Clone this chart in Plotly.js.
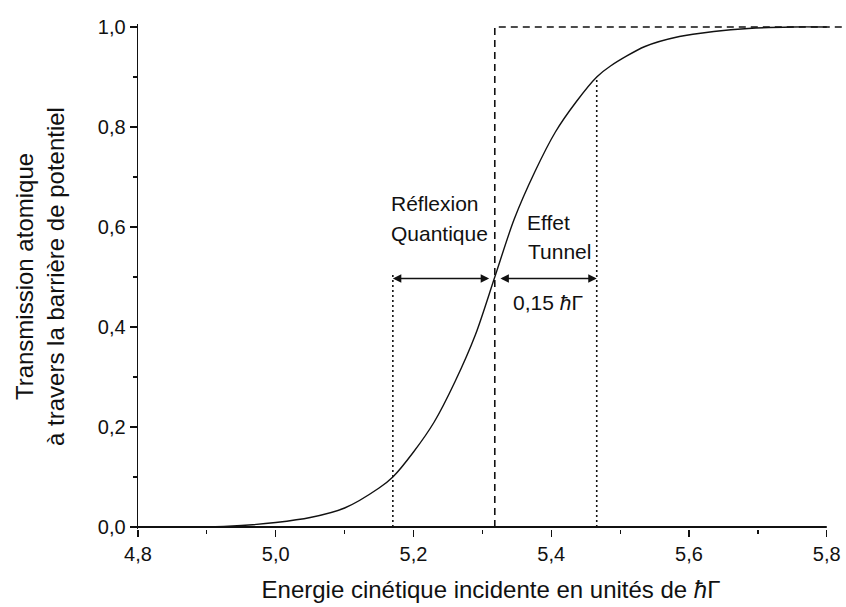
<!DOCTYPE html>
<html>
<head>
<meta charset="utf-8">
<script src="https://cdn.plot.ly/plotly-3.0.1.min.js"></script>
<style>
  html, body { margin: 0; padding: 0; background: #fff; }
  #chart { width: 846px; height: 607px; }
</style>
</head>
<body>
<div id="chart"></div>
<script>
// Transmission curve
const energy = [4.80, 4.90, 4.95, 5.00, 5.05, 5.10, 5.15, 5.17, 5.20, 5.23, 5.26, 5.29, 5.318,
                5.346, 5.376, 5.406, 5.436, 5.466, 5.486, 5.536, 5.586, 5.636, 5.686, 5.75, 5.80];
const transmission = [0.000, 0.000, 0.003, 0.009, 0.019, 0.038, 0.078, 0.100, 0.150, 0.210, 0.290, 0.385, 0.500,
                      0.615, 0.710, 0.790, 0.850, 0.900, 0.922, 0.961, 0.981, 0.991, 0.997, 1.000, 1.000];
// Classical step (dashed)
const stepE = [5.318, 5.318, 5.83];
const stepT = [0, 1, 1];
// Dotted markers of the width (5.17 and 5.466)
const markLeftE = [5.17, 5.17];
const markLeftT = [0, 0.51];
const markRightE = [5.466, 5.466];
const markRightT = [0, 0.90];
// Arrow level and centre
const arrowT = 0.497;
const centreE = 5.318;
// Labels
const xTitle = "Energie cinétique incidente en unités de <i>ħ</i>Γ";
const yTitle = "Transmission atomique<br>à travers la barrière de potentiel";
const xTicks = [4.8, 5.0, 5.2, 5.4, 5.6, 5.8];
const yTicks = [0.0, 0.2, 0.4, 0.6, 0.8, 1.0];

const FONT = "Liberation Sans, Arial, Helvetica, sans-serif";

const traces = [
  { x: energy, y: transmission, type: "scatter", mode: "lines",
    line: { color: "#111", width: 1.4, shape: "spline", smoothing: 0.8 }, hoverinfo: "skip" },
  { x: stepE, y: stepT, type: "scatter", mode: "lines",
    line: { color: "#111", width: 1.6, dash: "7px,5px" }, hoverinfo: "skip" },
  { x: markLeftE, y: markLeftT, type: "scatter", mode: "lines",
    line: { color: "#111", width: 1.6, dash: "2px,3px" }, hoverinfo: "skip" },
  { x: markRightE, y: markRightT, type: "scatter", mode: "lines",
    line: { color: "#111", width: 1.6, dash: "2px,3px" }, hoverinfo: "skip" }
];

const txt = (t, x, y) => ({ text: t, x: x, y: y, xref: "x", yref: "y", showarrow: false,
  xanchor: "left", yanchor: "middle", font: { family: FONT, size: 21, color: "#111" } });

const arrow = (x0, x1) => ({ x: x1, y: arrowT, ax: x0, ay: arrowT, xref: "x", yref: "y",
  axref: "x", ayref: "y", text: "", showarrow: true, arrowhead: 2, arrowside: "end+start",
  arrowsize: 1.3, arrowwidth: 1.3, arrowcolor: "#111", standoff: 0, startstandoff: 0 });

const layout = {
  width: 846, height: 607,
  margin: { l: 138, r: 2, t: 24, b: 78 },
  paper_bgcolor: "#fff", plot_bgcolor: "#fff",
  showlegend: false,
  separators: ", ",
  font: { family: FONT, size: 20, color: "#111" },
  xaxis: {
    range: [4.8, 5.825], tickvals: xTicks, tickformat: ".1f",
    showline: false, showgrid: false, zeroline: false,
    ticks: "outside", ticklen: 7, tickwidth: 1.3, tickcolor: "#111",
    minor: { dtick: 0.1, tick0: 4.8, ticks: "outside", ticklen: 4, tickwidth: 1.2, tickcolor: "#111", showgrid: false },
    tickfont: { family: FONT, size: 20, color: "#111" },
    title: { text: xTitle, standoff: 17, font: { family: FONT, size: 24, color: "#111" } }
  },
  yaxis: {
    range: [-0.004, 1.006], tickvals: yTicks, tickformat: ".1f",
    showline: true, linecolor: "#111", linewidth: 1.4, showgrid: false, zeroline: false,
    ticks: "outside", ticklen: 7, tickwidth: 1.3, tickcolor: "#111",
    minor: { dtick: 0.1, tick0: 0, ticks: "outside", ticklen: 4, tickwidth: 1.2, tickcolor: "#111", showgrid: false },
    tickfont: { family: FONT, size: 20, color: "#111" },
    title: { text: yTitle, standoff: 26, font: { family: FONT, size: 24, color: "#111" } }
  },
  shapes: [
    { type: "line", xref: "x", yref: "y", x0: xTicks[0], x1: xTicks[xTicks.length - 1], y0: 0, y1: 0,
      line: { color: "#111", width: 2 } }
  ],
  annotations: [
    arrow(centreE - 0.006, markLeftE[0]),
    arrow(centreE + 0.006, markRightE[0]),
    txt("Réflexion", 5.165, 0.648),
    txt("Quantique", 5.165, 0.588),
    txt("Effet", 5.362, 0.61),
    txt("Tunnel", 5.364, 0.552),
    txt("0,15 <i>ħ</i>Γ", 5.341, 0.45)
  ]
};

Plotly.newPlot("chart", traces, layout, { displayModeBar: false, staticPlot: true });
</script>
</body>
</html>
